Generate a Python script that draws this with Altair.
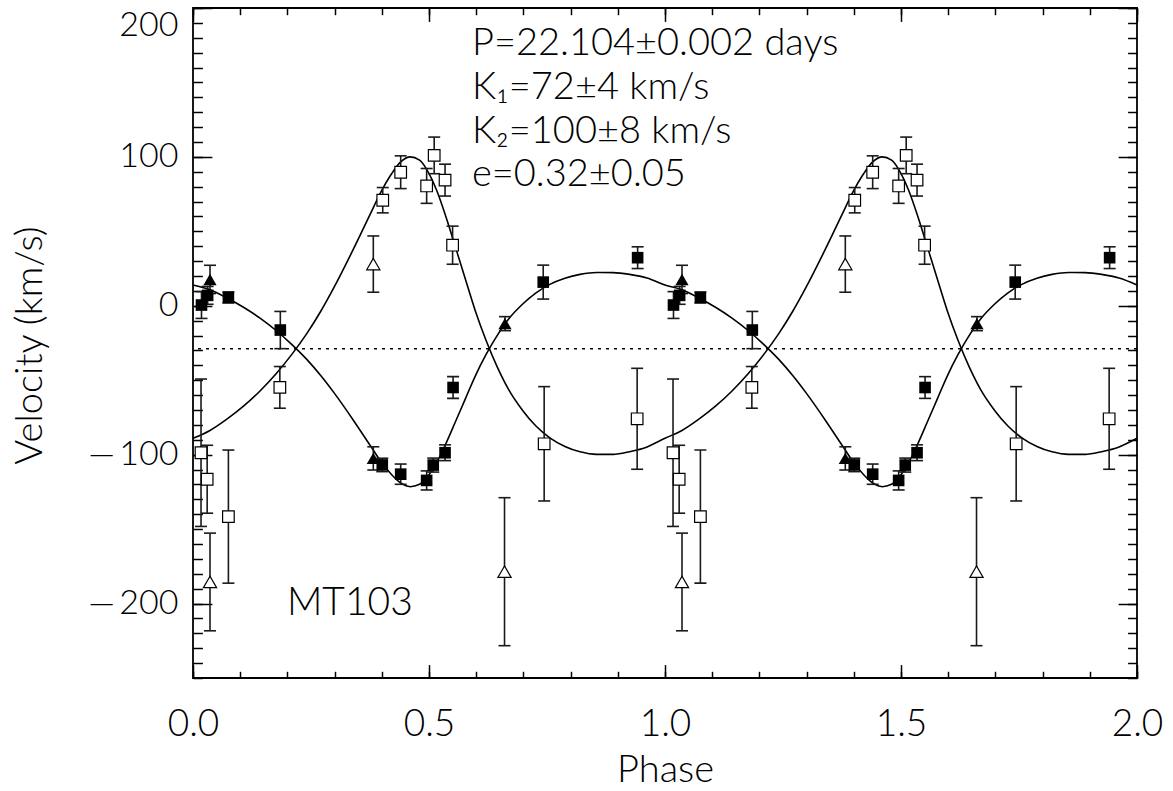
import altair as alt
import pandas as pd

# ---------------- data (one cycle, phase 0-1) ----------------
# primary star: filled squares
fs_phase = [0.018, 0.031, 0.075, 0.185, 0.401, 0.440, 0.495, 0.509, 0.534, 0.551, 0.742, 0.942]
fs_vel = [0.5, 7.0, 5.6, -16.3, -106.9, -113.1, -117.3, -107.0, -98.7, -54.9, 15.9, 32.3]
fs_err = [9.0, 6.0, 3.7, 12.5, 4.5, 6.8, 6.4, 4.7, 5.3, 7.3, 11.4, 7.3]
# primary star: filled triangles
ft_phase = [0.036, 0.382, 0.661]
ft_vel = [17.7, -102.5, -12.0]
ft_err = [9.5, 7.8, 4.7]
# secondary star: open squares
os_phase = [0.017, 0.030, 0.075, 0.184, 0.402, 0.440, 0.495, 0.511, 0.534, 0.550, 0.744, 0.941]
os_vel = [-98.7, -116.5, -141.6, -54.8, 70.9, 89.7, 80.5, 101.0, 84.4, 40.7, -92.7, -75.9]
os_err = [49.5, 22.8, 44.7, 14.0, 8.5, 11.0, 11.7, 12.3, 10.7, 12.8, 38.4, 33.9]
# secondary star: open triangles
ot_phase = [0.036, 0.382, 0.660]
ot_vel = [-185.5, 28.0, -178.6]
ot_err = [32.8, 18.9, 49.7]

# fitted orbit curves
curve_phase = [0.000, 0.035, 0.071, 0.107, 0.142, 0.176, 0.209, 0.241, 0.271, 0.299,
               0.339, 0.376, 0.398, 0.420, 0.440, 0.460, 0.480, 0.498, 0.517, 0.536,
               0.556, 0.577, 0.598, 0.621, 0.645, 0.670, 0.698, 0.726, 0.756, 0.788,
               0.820, 0.855, 0.890, 0.925, 0.962, 1.000]
curve_v1 = [14.0, 10.9, 5.4, -1.0, -8.3, -16.6, -25.9, -36.0, -47.0, -58.5,
            -76.5, -94.1, -104.5, -113.1, -119.0, -121.5, -119.9, -114.3, -104.9, -92.4,
            -77.9, -62.5, -47.2, -32.7, -19.7, -8.4, 1.0, 8.5, 14.4, 18.5,
            21.1, 22.4, 22.3, 21.1, 18.7, 14.0]
curve_v2 = [-89.0, -83.9, -76.3, -67.4, -57.2, -45.6, -32.8, -18.7, -3.5, 12.5,
            37.5, 61.9, 76.4, 88.3, 96.6, 100.0, 97.8, 90.0, 76.9, 59.6,
            39.4, 18.0, -3.3, -23.3, -41.4, -57.0, -70.1, -80.6, -88.7, -94.5,
            -98.1, -99.8, -99.8, -98.0, -94.8, -89.0]

gamma = [-28.8]

ann_text = ["P=22.104\u00b10.002 days", "K\u2081=72\u00b14 km/s", "K\u2082=100\u00b18 km/s", "e=0.32\u00b10.05"]
ann_phase = [0.591, 0.591, 0.591, 0.591]
ann_vel = [175.6, 146.0, 116.6, 87.7]
name_text = ["MT103"]
name_phase = [0.199]
name_vel = [-199.5]

x_major = [0, 0.5, 1.0, 1.5, 2.0]
x_minor = [round(0.1 * i, 1) for i in range(21)]
y_labels = [-200, -100, 0, 100, 200]
y_major = [-200, -100, 0, 100, 200]
y_minor = list(range(-250, 201, 10))

# ---------------- tables ----------------
rows = []
for kind, ph, vv, ee in [("fs", fs_phase, fs_vel, fs_err), ("ft", ft_phase, ft_vel, ft_err),
                         ("os", os_phase, os_vel, os_err), ("ot", ot_phase, ot_vel, ot_err)]:
    for p, v, e in zip(ph, vv, ee):
        for cyc in (0, 1):
            rows.append({"kind": kind, "phase": p + cyc, "vel": v, "err": e})
pts = pd.DataFrame(rows)
pts["lo"] = pts["vel"] - pts["err"]
pts["hi"] = pts["vel"] + pts["err"]

crv = pd.DataFrame({
    "phase": curve_phase + [p + 1 for p in curve_phase[1:]],
    "v1": curve_v1 + curve_v1[1:],
    "v2": curve_v2 + curve_v2[1:],
})

W, H = 944, 670
FONT = "Lato"
xs = alt.Scale(domain=[0, 2], nice=False, zero=False)
ys = alt.Scale(domain=[-250, 200], nice=False, zero=False)


def X(field="phase", axis=None):
    return alt.X(f"{field}:Q", scale=xs, axis=axis)


def Y(field, axis=None):
    return alt.Y(f"{field}:Q", scale=ys, axis=axis)


gline = alt.Chart(pd.DataFrame({"g": gamma})).mark_rule(
    color="black", strokeWidth=1.5, strokeDash=[3, 5]).encode(y=Y("g"))

line1 = alt.Chart(crv).mark_line(color="black", strokeWidth=1.6, interpolate="monotone").encode(
    x=X(), y=Y("v1"))
line2 = alt.Chart(crv).mark_line(color="black", strokeWidth=1.6, interpolate="monotone").encode(
    x=X(), y=Y("v2"))

bars = alt.Chart(pts).mark_rule(color="#1a1a1a", strokeWidth=1.6).encode(
    x=X(), y=Y("lo"), y2="hi:Q")
cap_lo = alt.Chart(pts).mark_tick(orient="horizontal", size=12, thickness=1.6, color="#1a1a1a", opacity=1).encode(
    x=X(), y=Y("lo"))
cap_hi = alt.Chart(pts).mark_tick(orient="horizontal", size=12, thickness=1.6, color="#1a1a1a", opacity=1).encode(
    x=X(), y=Y("hi"))

fsq = alt.Chart(pts).transform_filter(alt.datum.kind == "fs").mark_point(
    shape="square", filled=True, color="black", size=135, opacity=1).encode(x=X(), y=Y("vel"))
osq = alt.Chart(pts).transform_filter(alt.datum.kind == "os").mark_point(
    shape="square", filled=True, fill="white", stroke="black", strokeWidth=1.2, size=135, opacity=1).encode(
    x=X(), y=Y("vel"))
ftr = alt.Chart(pts).transform_filter(alt.datum.kind == "ft").mark_point(
    shape="triangle-up", filled=True, color="black", size=175, opacity=1).encode(x=X(), y=Y("vel"))
otr = alt.Chart(pts).transform_filter(alt.datum.kind == "ot").mark_point(
    shape="triangle-up", filled=True, fill="white", stroke="black", strokeWidth=1.2, size=175, opacity=1).encode(
    x=X(), y=Y("vel"))

ann = alt.Chart(pd.DataFrame({"t": ann_text, "phase": ann_phase, "vel": ann_vel})).mark_text(
    align="left", baseline="middle", font=FONT, fontSize=38, fontWeight=300, color="black").encode(
    x=X(), y=Y("vel"), text="t:N")
name = alt.Chart(pd.DataFrame({"t": name_text, "phase": name_phase, "vel": name_vel})).mark_text(
    align="left", baseline="middle", font=FONT, fontSize=39, fontWeight=300, color="black").encode(
    x=X(), y=Y("vel"), text="t:N")

# axis with labels and titles
lab = alt.Chart(crv).mark_line(opacity=0).encode(
    x=X(axis=alt.Axis(orient="bottom", values=x_major, format=".1f", ticks=False, tickSize=0,
                      domain=False, grid=False, labelFlush=False, labelPadding=57,
                      labelBaseline="alphabetic", labelFontSize=37, title="Phase",
                      titleFontSize=38, titleBaseline="alphabetic", titleY=103)),
    y=Y("v1", axis=alt.Axis(orient="left", values=y_labels, ticks=False, tickSize=0, domain=False,
                            grid=False, labelFlush=True, labelPadding=15, labelFontSize=34,
                            labelExpr="datum.value < 0 ? '\u2014\u2009' + format(-datum.value, 'd') : datum.label",
                            title="Velocity (km/s)", titleFontSize=38, titleX=-163, titleY=337,
                            titleBaseline="middle")),
)


def tick_axis(orient, offset, values, size):
    return alt.Axis(orient=orient, offset=offset, values=values, tickSize=size, tickWidth=1.5,
                    tickColor="black", labels=False, domain=False, grid=False, title="")


def tick_layer(xa, ya):
    return alt.Chart(crv).mark_line(opacity=0).encode(x=X(axis=xa), y=Y("v1", axis=ya))


t1 = tick_layer(tick_axis("top", -H, x_major, 13.4), tick_axis("right", -W, y_major, 18.9))
t2 = tick_layer(tick_axis("top", -H, x_minor, 6.7), tick_axis("right", -W, y_minor, 9.4))
t3 = tick_layer(tick_axis("bottom", -H, x_major, 13.4), tick_axis("left", -W, y_major, 18.9))
t4 = tick_layer(tick_axis("bottom", -H, x_minor, 6.7), tick_axis("left", -W, y_minor, 9.4))

chart = alt.layer(
    gline, line1, line2, bars, cap_lo, cap_hi, osq, otr, fsq, ftr, ann, name, lab, t1, t2, t3, t4
).resolve_axis(x="independent", y="independent").properties(
    width=W, height=H,
    padding={"left": 193, "top": 8, "right": 36, "bottom": 113},
    autosize=alt.AutoSizeParams(type="none"),
    background="white",
).configure_view(
    stroke="black", strokeWidth=1.8
).configure_axis(
    labelFont=FONT, titleFont=FONT, labelColor="black", titleColor="black",
    labelFontWeight=300, titleFontWeight=300,
)

chart.save("out.html", embed_options={"renderer": "svg", "actions": False})
